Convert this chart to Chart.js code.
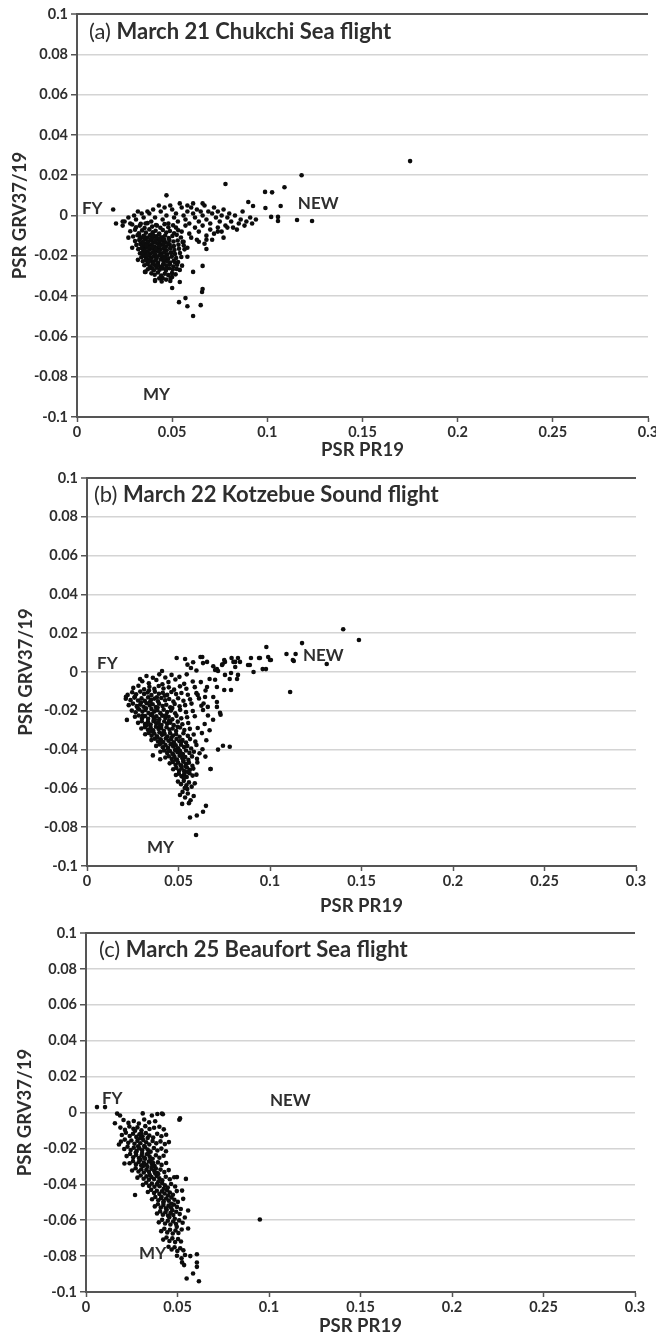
<!DOCTYPE html>
<html>
<head>
<meta charset="utf-8">
<script src="https://cdn.jsdelivr.net/npm/chart.js@4.4.1/dist/chart.umd.min.js"></script>
<style>
  html, body { margin: 0; padding: 0; background: #fff; }
  body { width: 656px; height: 1337px; position: relative; overflow: hidden; }
  .panel { position: absolute; left: 0; width: 656px; }
</style>
</head>
<body>
<div class="panel" style="top:0"><canvas id="chartA" width="656" height="462"></canvas></div>
<div class="panel" style="top:462px"><canvas id="chartB" width="656" height="460"></canvas></div>
<div class="panel" style="top:922px"><canvas id="chartC" width="656" height="415"></canvas></div>
<script>
/* ═══════════════════════════════════════════════
   PSR scatter — GRV37/19 vs PR19, three flights
═══════════════════════════════════════════════ */

// ── Axis ticks ──
const xTicks = [0, 0.05, 0.1, 0.15, 0.2, 0.25, 0.3];
const yTicks = [-0.1, -0.08, -0.06, -0.04, -0.02, 0, 0.02, 0.04, 0.06, 0.08, 0.1];

// ── Panel captions ──
const panelTags = ['(a)', '(b)', '(c)'];
const panelTitles = ['March 21 Chukchi Sea flight', 'March 22 Kotzebue Sound flight', 'March 25 Beaufort Sea flight'];
const iceLabels = ['FY', 'NEW', 'MY'];

// ── (a) March 21 points [PR19, GRV37/19] ──
const ptsA = [
  [0.019,0.003],[0.0205,-0.004],[0.047,0.010],[0.078,0.0156],[0.118,0.020],[0.175,0.027],
  [0.0988,0.0117],[0.1025,0.0115],[0.109,0.014],[0.107,0.0047],[0.099,0.0037],[0.102,-0.0007],
  [0.1056,-0.0007],[0.1056,-0.0027],[0.1156,-0.0022],[0.1235,-0.0027],[0.090,0.0067],[0.0925,0.0047],
  [0.050,-0.036],[0.0536,-0.043],[0.057,-0.041],[0.058,-0.045],[0.061,-0.0499],[0.065,-0.0445],
  [0.0657,-0.038],[0.066,-0.0365],[0.066,-0.025],[0.068,-0.0166],[0.061,-0.028],[0.0357,-0.028],
  [0.041,-0.0325],[0.049,-0.0325],[0.054,-0.033],
  [0.024,-0.003],[0.027,-0.011],[0.029,-0.016],[0.032,-0.022],[0.036,-0.028],[0.041,-0.032],
  [0.077,-0.011],[0.074,-0.008],[0.068,-0.012],[0.064,-0.013],[0.058,-0.016],[0.058,-0.0205],
  [0.054,-0.027],[0.050,-0.0305],[0.045,-0.031],
  [0.028,-0.004],[0.031,-0.002],[0.033,-0.005],[0.035,-0.001],[0.036,-0.004],[0.038,0.001],
  [0.039,-0.003],[0.041,-0.001],[0.042,-0.005],[0.044,0.002],[0.045,-0.002],[0.047,0.000],
  [0.048,-0.004],[0.050,0.003],[0.051,-0.001],[0.052,0.001],[0.053,-0.003],[0.055,0.004],
  [0.056,0.000],[0.057,-0.002],[0.058,0.002],[0.059,-0.004],[0.060,0.004],[0.061,0.001],
  [0.062,-0.001],[0.063,0.003],[0.064,-0.003],[0.065,0.002],[0.066,0.000],[0.067,0.005],
  [0.068,-0.002],[0.069,0.002],[0.070,-0.004],[0.071,0.001],[0.072,0.004],[0.073,-0.001],
  [0.074,0.002],[0.075,-0.003],[0.076,0.000],[0.077,0.003],[0.078,-0.005],[0.079,-0.001],
  [0.080,0.001],[0.081,-0.003],[0.082,-0.006],[0.083,0.000],[0.085,-0.004],[0.086,-0.002],
  [0.087,0.002],[0.088,-0.005],[0.089,-0.003],[0.091,-0.001],[0.092,-0.004],[0.094,-0.002],
  [0.054,0.006],[0.058,0.005],[0.061,0.006],[0.066,0.006],[0.046,0.004],[0.040,0.003],
  [0.037,0.002],[0.034,0.001],[0.030,0.000],[0.025,-0.003],[0.024,-0.005],[0.027,-0.001],
  [0.032,0.002],[0.043,0.005],[0.049,0.005],
  [0.052,-0.006],[0.055,-0.008],[0.057,-0.005],[0.059,-0.009],[0.062,-0.006],[0.064,-0.008],
  [0.066,-0.005],[0.068,-0.010],[0.070,-0.007],[0.072,-0.009],[0.074,-0.006],[0.076,-0.008],
  [0.079,-0.006],[0.084,-0.007],[0.063,-0.012],[0.067,-0.014],[0.071,-0.012],[0.060,-0.011],
  [0.056,-0.013],
  [0.029,-0.0045],[0.031,-0.0058],[0.0335,-0.0041],[0.0355,-0.0062],[0.037,-0.0038],[0.0395,-0.0055],
  [0.0415,-0.0047],[0.0438,-0.0061],[0.046,-0.0043],[0.048,-0.0058],[0.0505,-0.0049],
  [0.028,-0.0078],[0.0305,-0.0071],[0.0325,-0.0088],[0.0342,-0.0074],[0.0362,-0.0085],[0.038,-0.0069],
  [0.0398,-0.0083],[0.0413,-0.0076],[0.0432,-0.0089],[0.0451,-0.0072],[0.0469,-0.0084],[0.0488,-0.0077],
  [0.051,-0.0088],[0.0532,-0.0073],
  [0.0295,-0.0104],[0.0318,-0.0098],[0.0336,-0.0112],[0.0351,-0.0101],[0.0368,-0.0109],[0.0384,-0.0097],
  [0.0399,-0.0111],[0.0416,-0.0103],[0.0431,-0.0094],[0.0447,-0.0108],[0.0463,-0.0099],[0.0482,-0.0112],
  [0.0501,-0.0102],[0.0524,-0.0096],[0.0546,-0.0109],
  [0.0305,-0.0127],[0.0327,-0.0121],[0.0344,-0.0132],[0.0359,-0.0119],[0.0374,-0.0128],[0.0389,-0.0122],
  [0.0403,-0.0134],[0.0419,-0.0118],[0.0435,-0.0129],[0.0449,-0.0123],[0.0466,-0.0133],[0.0485,-0.0121],
  [0.0507,-0.0129],[0.0529,-0.0124],[0.0555,-0.0131],
  [0.0312,-0.0146],[0.0333,-0.0141],[0.0348,-0.0152],[0.0363,-0.0139],[0.0377,-0.0149],[0.0391,-0.0143],
  [0.0406,-0.0154],[0.0421,-0.0138],[0.0437,-0.0147],[0.0452,-0.0142],[0.0468,-0.0153],[0.0487,-0.0144],
  [0.0509,-0.0151],[0.0533,-0.0145],[0.0561,-0.0149],
  [0.0322,-0.0167],[0.0339,-0.0161],[0.0353,-0.0172],[0.0366,-0.0159],[0.0381,-0.0169],[0.0394,-0.0163],
  [0.0409,-0.0174],[0.0424,-0.0158],[0.0439,-0.0168],[0.0455,-0.0162],[0.0471,-0.0173],[0.049,-0.0164],
  [0.0512,-0.0171],[0.0536,-0.0165],[0.0565,-0.0168],
  [0.0331,-0.0187],[0.0345,-0.0181],[0.0358,-0.0192],[0.0371,-0.0179],[0.0385,-0.0189],[0.0398,-0.0183],
  [0.0412,-0.0194],[0.0427,-0.0178],[0.0442,-0.0188],[0.0458,-0.0182],[0.0474,-0.0193],[0.0493,-0.0184],
  [0.0515,-0.0191],[0.0541,-0.0186],
  [0.0338,-0.0207],[0.0352,-0.0201],[0.0364,-0.0212],[0.0377,-0.0199],[0.0391,-0.0209],[0.0404,-0.0203],
  [0.0418,-0.0214],[0.0433,-0.0198],[0.0448,-0.0208],[0.0463,-0.0202],[0.0479,-0.0213],[0.0498,-0.0204],
  [0.0521,-0.0211],[0.0548,-0.0206],
  [0.0346,-0.0227],[0.0361,-0.0221],[0.0373,-0.0232],[0.0386,-0.0219],[0.0399,-0.0229],[0.0412,-0.0223],
  [0.0426,-0.0234],[0.0441,-0.0218],[0.0456,-0.0228],[0.0472,-0.0222],[0.0489,-0.0233],[0.0508,-0.0224],
  [0.0531,-0.0231],
  [0.0354,-0.0247],[0.0369,-0.0241],[0.0383,-0.0252],[0.0397,-0.0239],[0.0411,-0.0249],[0.0425,-0.0243],
  [0.044,-0.0254],[0.0455,-0.0238],[0.0471,-0.0248],[0.0488,-0.0242],[0.0506,-0.0253],[0.0526,-0.0244],
  [0.0552,-0.0249],
  [0.0372,-0.0267],[0.0389,-0.0261],[0.0404,-0.0272],[0.0419,-0.0259],[0.0434,-0.0269],[0.045,-0.0263],
  [0.0467,-0.0274],[0.0485,-0.0262],[0.0503,-0.0268],[0.0524,-0.0265],
  [0.0391,-0.0287],[0.0408,-0.0294],[0.0425,-0.0283],[0.0442,-0.0298],[0.0461,-0.0289],[0.048,-0.0296],
  [0.0499,-0.0286],[0.0518,-0.0292],
  [0.0432,-0.0312],[0.0468,-0.0318],[0.0445,-0.0327],[0.0492,-0.0311],
  [0.0372,-0.0135],[0.0396,-0.0156],[0.0411,-0.0127],[0.0428,-0.0176],[0.0445,-0.0197],[0.0383,-0.0217],
  [0.0402,-0.0238],[0.0461,-0.0157],[0.0476,-0.0228],[0.0419,-0.0206],[0.0357,-0.0176],[0.0389,-0.0114],
  [0.0436,-0.0113],[0.0452,-0.0245],[0.0369,-0.0197],[0.0415,-0.0166],[0.0481,-0.0139],[0.0394,-0.0262],
  [0.0347,-0.0136],[0.0497,-0.0185],
  [0.0352,-0.0111],[0.0376,-0.0158],[0.0408,-0.0188],[0.0432,-0.0152],[0.0457,-0.0214],[0.0423,-0.0247],
  [0.0378,-0.0228],[0.0364,-0.0148],[0.0401,-0.0098],[0.0458,-0.0118],[0.0492,-0.0158],[0.0515,-0.0233],
  [0.0468,-0.0262],[0.0341,-0.0189],[0.0329,-0.0102]
];

// ── (b) March 22 points ──
const ptsB = [
  [0.140,0.022],[0.1486,0.0165],[0.1175,0.0149],[0.109,0.0093],[0.114,0.0093],[0.113,0.0057],
  [0.131,0.0041],[0.111,-0.0103],[0.098,0.0129],[0.099,0.0077],[0.1005,0.0062],[0.094,0.0072],
  [0.0896,0.0072],[0.089,0.0036],[0.091,0.000],[0.096,0.0015],[0.0978,0.0015],[0.0825,0.0072],
  [0.080,0.0052],[0.0787,-0.0005],[0.0825,-0.0015],[0.082,-0.0036],[0.0787,-0.0093],[0.075,-0.0093],
  [0.073,-0.022],[0.088,0.0036],[0.0754,0.0052],[0.074,0.004],
  [0.049,0.0072],[0.0536,0.0067],[0.058,0.005],[0.062,0.0077],[0.0634,0.0046],[0.071,0.0015],
  [0.075,0.0062],[0.079,0.0072],[0.081,0.0052],[0.069,0.003],[0.0945,0.0072],[0.100,0.0062],
  [0.1125,0.0062],[0.041,0.0005],[0.036,-0.003],[0.029,-0.0036],
  [0.063,0.0077],[0.0656,0.0052],[0.070,0.001],[0.0716,0.0005],[0.067,-0.0036],[0.070,-0.004],
  [0.0656,-0.0077],[0.071,-0.0077],[0.0645,-0.0129],[0.069,-0.0129],[0.071,-0.0155],[0.066,-0.018],
  [0.071,-0.018],[0.0634,-0.0196],[0.0754,-0.0015],[0.078,-0.0036],[0.081,0.0026],[0.0738,0.0036],
  [0.0836,0.0052],
  [0.0325,-0.0021],[0.0395,-0.0012],[0.0428,-0.0028],[0.0462,-0.0015],[0.0505,-0.0025],[0.0545,-0.0012],
  [0.0568,0.0021],[0.0598,0.0008],[0.0549,0.0038],
  [0.0302,-0.0048],[0.0338,-0.0058],[0.0379,-0.0041],[0.0412,-0.0063],[0.0445,-0.0052],[0.0483,-0.0039],
  [0.0531,-0.0061],[0.0578,-0.0049],
  [0.0253,-0.0082],[0.0281,-0.0071],[0.0312,-0.0089],[0.0341,-0.0076],[0.0368,-0.0087],[0.0392,-0.0072],
  [0.0418,-0.0085],[0.0447,-0.0079],[0.0476,-0.0091],[0.0508,-0.0074],[0.0543,-0.0086],[0.0589,-0.0078],
  [0.0222,-0.0118],[0.0247,-0.0104],[0.0268,-0.0115],[0.0291,-0.0101],[0.0312,-0.0113],[0.0331,-0.0106],
  [0.0352,-0.0119],[0.0371,-0.0102],[0.0393,-0.0112],[0.0414,-0.0107],[0.0438,-0.0118],[0.0461,-0.0103],
  [0.0487,-0.0114],[0.0516,-0.0108],[0.0551,-0.0117],[0.0598,-0.0109],
  [0.0212,-0.0138],[0.0238,-0.0145],[0.0259,-0.0132],[0.0279,-0.0147],[0.0298,-0.0136],[0.0316,-0.0149],
  [0.0334,-0.0131],[0.0351,-0.0143],[0.0369,-0.0137],[0.0388,-0.0151],[0.0406,-0.0134],[0.0427,-0.0146],
  [0.0449,-0.0139],[0.0472,-0.0152],[0.0498,-0.0135],[0.0527,-0.0148],[0.0563,-0.0141],[0.0612,-0.0136],
  [0.0228,-0.0171],[0.0251,-0.0163],[0.0272,-0.0176],[0.0291,-0.0168],[0.0309,-0.0179],[0.0326,-0.0161],
  [0.0343,-0.0173],[0.0359,-0.0166],[0.0376,-0.0181],[0.0394,-0.0164],[0.0413,-0.0175],[0.0433,-0.0169],
  [0.0455,-0.0182],[0.0479,-0.0165],[0.0506,-0.0177],[0.0536,-0.0171],[0.0571,-0.0163],[0.0625,-0.0174],
  [0.0245,-0.0199],[0.0266,-0.0208],[0.0285,-0.0193],[0.0303,-0.0204],[0.0319,-0.0196],[0.0336,-0.0211],
  [0.0352,-0.0191],[0.0368,-0.0203],[0.0384,-0.0197],[0.0401,-0.0212],[0.0419,-0.0194],[0.0438,-0.0206],
  [0.0459,-0.0199],[0.0482,-0.0213],[0.0509,-0.0195],[0.0541,-0.0207],[0.0578,-0.0201],
  [0.0262,-0.0231],[0.0283,-0.0224],[0.0301,-0.0238],[0.0318,-0.0227],[0.0334,-0.0241],[0.0349,-0.0222],
  [0.0364,-0.0234],[0.0379,-0.0228],[0.0395,-0.0243],[0.0411,-0.0225],[0.0428,-0.0237],[0.0446,-0.0231],
  [0.0466,-0.0244],[0.0489,-0.0226],[0.0515,-0.0239],[0.0547,-0.0233],[0.0589,-0.0228],
  [0.0279,-0.0262],[0.0299,-0.0254],[0.0317,-0.0268],[0.0333,-0.0257],[0.0348,-0.0271],[0.0363,-0.0252],
  [0.0378,-0.0264],[0.0392,-0.0258],[0.0407,-0.0273],[0.0422,-0.0255],[0.0438,-0.0267],[0.0455,-0.0261],
  [0.0474,-0.0274],[0.0496,-0.0256],[0.0521,-0.0269],[0.0553,-0.0263],
  [0.0297,-0.0291],[0.0316,-0.0284],[0.0333,-0.0298],[0.0348,-0.0287],[0.0362,-0.0301],[0.0377,-0.0282],
  [0.0391,-0.0294],[0.0405,-0.0288],[0.042,-0.0303],[0.0435,-0.0285],[0.0451,-0.0297],[0.0468,-0.0291],
  [0.0487,-0.0304],[0.0508,-0.0286],[0.0532,-0.0299],[0.0562,-0.0293],[0.0605,-0.0289],
  [0.0318,-0.0321],[0.0337,-0.0314],[0.0353,-0.0328],[0.0368,-0.0317],[0.0382,-0.0331],[0.0396,-0.0312],
  [0.041,-0.0324],[0.0424,-0.0318],[0.0439,-0.0333],[0.0454,-0.0315],[0.047,-0.0327],[0.0487,-0.0321],
  [0.0506,-0.0334],[0.0527,-0.0316],[0.0551,-0.0329],[0.0583,-0.0322],
  [0.0352,-0.0351],[0.0371,-0.0344],[0.0388,-0.0358],[0.0403,-0.0347],[0.0417,-0.0361],[0.0431,-0.0342],
  [0.0445,-0.0354],[0.0459,-0.0348],[0.0474,-0.0363],[0.0489,-0.0345],[0.0505,-0.0357],[0.0522,-0.0351],
  [0.0541,-0.0364],[0.0563,-0.0346],[0.0592,-0.0359],
  [0.0378,-0.0381],[0.0397,-0.0374],[0.0414,-0.0388],[0.0429,-0.0377],[0.0443,-0.0391],[0.0457,-0.0372],
  [0.0471,-0.0384],[0.0485,-0.0378],[0.0499,-0.0393],[0.0514,-0.0375],[0.053,-0.0387],[0.0548,-0.0381],
  [0.0569,-0.0394],[0.0598,-0.0376],
  [0.0401,-0.0411],[0.0421,-0.0404],[0.0438,-0.0418],[0.0453,-0.0407],[0.0467,-0.0421],[0.0481,-0.0402],
  [0.0495,-0.0414],[0.0509,-0.0408],[0.0524,-0.0423],[0.0541,-0.0405],[0.056,-0.0417],[0.0584,-0.0411],
  [0.0615,-0.0419],
  [0.0428,-0.0441],[0.0447,-0.0434],[0.0463,-0.0448],[0.0478,-0.0437],[0.0492,-0.0451],[0.0506,-0.0432],
  [0.0521,-0.0444],[0.0537,-0.0438],[0.0554,-0.0453],[0.0574,-0.0435],[0.0601,-0.0447],
  [0.0452,-0.0471],[0.0469,-0.0464],[0.0484,-0.0478],[0.0498,-0.0467],[0.0512,-0.0481],[0.0526,-0.0462],
  [0.0541,-0.0474],[0.0557,-0.0468],[0.0576,-0.0483],[0.0603,-0.0466],
  [0.0471,-0.0501],[0.0488,-0.0494],[0.0503,-0.0508],[0.0517,-0.0497],[0.0531,-0.0511],[0.0546,-0.0492],
  [0.0562,-0.0504],[0.0581,-0.0498],[0.0675,-0.050],
  [0.0486,-0.0531],[0.0502,-0.0524],[0.0517,-0.0538],[0.0531,-0.0527],[0.0545,-0.0541],[0.056,-0.0522],
  [0.0577,-0.0534],[0.0598,-0.0529],
  [0.0497,-0.0565],[0.0514,-0.0578],[0.0529,-0.0561],[0.0543,-0.0584],[0.0557,-0.0569],[0.0572,-0.0591],
  [0.0589,-0.0574],[0.0534,-0.0598],
  [0.0508,-0.0634],[0.0522,-0.0618],[0.052,-0.068],[0.0536,-0.0647],[0.0551,-0.0626],[0.0566,-0.0661],
  [0.0583,-0.0639],[0.0557,-0.0676],
  [0.065,-0.069],[0.0634,-0.072],[0.060,-0.074],[0.0563,-0.075],[0.0596,-0.084],
  [0.0213,-0.0128],[0.0218,-0.0247],[0.036,-0.043],[0.040,-0.045],[0.0716,-0.040],[0.0743,-0.038],
  [0.078,-0.0385],[0.0727,-0.021],[0.067,-0.030],[0.0675,-0.050],
  [0.0622,-0.0052],[0.0605,-0.0118],[0.0648,-0.0095],[0.0637,-0.0162],[0.0661,-0.0224],[0.0643,-0.0268],
  [0.0628,-0.0315],[0.0652,-0.0352],[0.0631,-0.0398],[0.0647,-0.0436],[0.0689,-0.0246],
  [0.0262,-0.0128],[0.0295,-0.0157],[0.0322,-0.0187],[0.0345,-0.0153],[0.0356,-0.0216],[0.0371,-0.0246],
  [0.0386,-0.0183],[0.0398,-0.0277],[0.0417,-0.0312],[0.0432,-0.0223],[0.0448,-0.0252],[0.0462,-0.0338],
  [0.0476,-0.0366],[0.0493,-0.0397],[0.0512,-0.0427],[0.0527,-0.0455],[0.0538,-0.0487],[0.0551,-0.0515],
  [0.0518,-0.0357],[0.0495,-0.0283],[0.0466,-0.0186],[0.0425,-0.0122],[0.0382,-0.0131],[0.0305,-0.0226],
  [0.0327,-0.0275],[0.0355,-0.0305],[0.0385,-0.0338],[0.0408,-0.0365],[0.0443,-0.0398],[0.0471,-0.0424],
  [0.0486,-0.0452],[0.0515,-0.0483],[0.0529,-0.0546],[0.0548,-0.0603],[0.0277,-0.0186],[0.0339,-0.0095]
];

// ── (c) March 25 points ──
const ptsC = [
  [0.006,0.003],[0.0104,0.003],
  [0.017,-0.0006],[0.031,-0.0005],[0.039,-0.0008],[0.042,-0.001],[0.051,-0.004],[0.0158,-0.006],
  [0.018,-0.0178],[0.021,-0.0284],[0.0268,-0.046],[0.095,-0.0596],[0.0546,-0.037],[0.0525,-0.0435],
  [0.0497,-0.036],[0.0558,-0.0546],[0.054,-0.0585],[0.0558,-0.0646],[0.0617,-0.094],[0.055,-0.0925],
  [0.0606,-0.079],[0.0606,-0.0836],[0.0606,-0.086],[0.0585,-0.0897],[0.057,-0.080],[0.0525,-0.0835],
  [0.0536,-0.085],
  [0.0186,-0.0017],[0.036,-0.0017],[0.0415,-0.0006],[0.0514,-0.0033],
  [0.0205,-0.0042],[0.0232,-0.0058],[0.0261,-0.0047],[0.0289,-0.0061],[0.0318,-0.0039],[0.0345,-0.0055],
  [0.0378,-0.0049],
  [0.0188,-0.0084],[0.0213,-0.0097],[0.0237,-0.0078],[0.0259,-0.0091],[0.0281,-0.0083],[0.0303,-0.0099],
  [0.0324,-0.0076],[0.0347,-0.0092],[0.0372,-0.0085],[0.0401,-0.0079],[0.0425,-0.0094],
  [0.0196,-0.0125],[0.0218,-0.0113],[0.0239,-0.0131],[0.0257,-0.0118],[0.0275,-0.0136],[0.0292,-0.0121],
  [0.0309,-0.0133],[0.0327,-0.0115],[0.0346,-0.0128],[0.0367,-0.0139],[0.0389,-0.0119],[0.0412,-0.0132],
  [0.0438,-0.0124],
  [0.0191,-0.0162],[0.0212,-0.0151],[0.0231,-0.0169],[0.0248,-0.0156],[0.0265,-0.0174],[0.0281,-0.0158],
  [0.0297,-0.0171],[0.0313,-0.0153],[0.0329,-0.0166],[0.0346,-0.0178],[0.0364,-0.0159],[0.0384,-0.0172],
  [0.0407,-0.0161],[0.0431,-0.0176],[0.0453,-0.0165],
  [0.0209,-0.0203],[0.0227,-0.0191],[0.0244,-0.0209],[0.0261,-0.0196],[0.0277,-0.0214],[0.0292,-0.0199],
  [0.0307,-0.0211],[0.0322,-0.0193],[0.0337,-0.0206],[0.0353,-0.0218],[0.0371,-0.0198],[0.039,-0.0212],
  [0.0412,-0.0201],[0.0437,-0.0216],
  [0.0222,-0.0243],[0.0241,-0.0231],[0.0258,-0.0249],[0.0274,-0.0236],[0.0289,-0.0254],[0.0304,-0.0239],
  [0.0318,-0.0251],[0.0333,-0.0233],[0.0348,-0.0246],[0.0364,-0.0258],[0.0382,-0.0238],[0.0401,-0.0252],
  [0.0424,-0.0241],
  [0.0238,-0.0283],[0.0257,-0.0271],[0.0273,-0.0289],[0.0288,-0.0276],[0.0302,-0.0294],[0.0316,-0.0279],
  [0.033,-0.0291],[0.0344,-0.0273],[0.0359,-0.0286],[0.0375,-0.0298],[0.0393,-0.0278],[0.0413,-0.0292],
  [0.0438,-0.0281],
  [0.0252,-0.0323],[0.0271,-0.0311],[0.0287,-0.0329],[0.0302,-0.0316],[0.0316,-0.0334],[0.033,-0.0319],
  [0.0344,-0.0331],[0.0358,-0.0313],[0.0373,-0.0326],[0.0389,-0.0338],[0.0407,-0.0318],[0.0428,-0.0332],
  [0.0452,-0.0321],
  [0.0281,-0.0363],[0.0299,-0.0351],[0.0315,-0.0369],[0.033,-0.0356],[0.0344,-0.0374],[0.0358,-0.0359],
  [0.0372,-0.0371],[0.0386,-0.0353],[0.0401,-0.0366],[0.0417,-0.0378],[0.0436,-0.0358],[0.0458,-0.0372],
  [0.0482,-0.0361],
  [0.0311,-0.0403],[0.0329,-0.0391],[0.0345,-0.0409],[0.036,-0.0396],[0.0374,-0.0414],[0.0388,-0.0399],
  [0.0402,-0.0411],[0.0416,-0.0393],[0.0431,-0.0406],[0.0447,-0.0418],[0.0465,-0.0398],[0.0487,-0.0412],
  [0.0338,-0.0443],[0.0356,-0.0431],[0.0372,-0.0449],[0.0387,-0.0436],[0.0401,-0.0454],[0.0415,-0.0439],
  [0.0429,-0.0451],[0.0443,-0.0433],[0.0458,-0.0446],[0.0475,-0.0458],[0.0496,-0.0438],
  [0.0361,-0.0483],[0.0379,-0.0471],[0.0395,-0.0489],[0.041,-0.0476],[0.0424,-0.0494],[0.0438,-0.0479],
  [0.0452,-0.0491],[0.0467,-0.0473],[0.0483,-0.0486],[0.0502,-0.0498],[0.0531,-0.0481],
  [0.0376,-0.0523],[0.0393,-0.0511],[0.0409,-0.0529],[0.0423,-0.0516],[0.0437,-0.0534],[0.0451,-0.0519],
  [0.0465,-0.0531],[0.048,-0.0513],[0.0497,-0.0526],[0.0518,-0.0538],
  [0.0388,-0.0563],[0.0405,-0.0551],[0.042,-0.0569],[0.0434,-0.0556],[0.0448,-0.0574],[0.0462,-0.0559],
  [0.0477,-0.0571],[0.0493,-0.0553],[0.0512,-0.0566],
  [0.0398,-0.0612],[0.0416,-0.0598],[0.0432,-0.0618],[0.0447,-0.0603],[0.0461,-0.0624],[0.0476,-0.0607],
  [0.0492,-0.0621],[0.0509,-0.0601],[0.0528,-0.0614],
  [0.0411,-0.0661],[0.0428,-0.0648],[0.0444,-0.0668],[0.0459,-0.0653],[0.0474,-0.0674],[0.0489,-0.0657],
  [0.0505,-0.0671],[0.0523,-0.0652],
  [0.0422,-0.0708],[0.044,-0.0696],[0.0456,-0.0716],[0.0472,-0.0701],[0.0487,-0.0722],[0.0503,-0.0705],
  [0.0519,-0.0719],
  [0.0451,-0.0748],[0.0468,-0.0763],[0.0484,-0.0751],[0.0499,-0.0772],[0.0515,-0.0756],[0.0532,-0.0768],
  [0.0497,-0.0798],[0.0522,-0.0812],[0.0541,-0.0794],
  [0.0296,-0.0143],[0.0318,-0.0187],[0.0341,-0.0226],[0.0352,-0.0264],[0.0336,-0.0302],[0.0307,-0.0226],
  [0.0285,-0.0188],[0.0323,-0.0258],[0.0362,-0.0301],[0.0378,-0.0338],[0.0349,-0.0348],[0.0395,-0.0343],
  [0.0423,-0.0503],[0.0441,-0.0542],[0.0455,-0.0583],[0.0413,-0.0471],
  [0.0268,-0.0102],[0.0302,-0.0116],[0.0337,-0.0142],[0.0272,-0.0223],[0.0298,-0.0263],[0.0312,-0.0298],
  [0.0367,-0.0281],[0.0382,-0.0312],[0.0395,-0.0386],[0.0425,-0.0425],[0.0448,-0.0462],[0.0466,-0.0508],
  [0.0472,-0.0545],[0.0485,-0.0592],[0.0496,-0.0637]
];

// ── Style ──
const TEXT = '#2e2e2e';
const AXIS = '#555555';
const GRID = '#d4d4d4';
const DOT = '#0c0c0c';
const FONT = 'Lato, "Open Sans", sans-serif';

Chart.defaults.font.family = FONT;
Chart.defaults.color = TEXT;

// ── Panel layout (canvas px) ──
const panels = [
  { id: 'chartA', pts: ptsA, padTop: 14, padRight: 8, yWidth: 77, xHeight: 45, xTitlePad: 1, yTitlePad: 9,
    tagAt: [0.0063, 0.091], notes: [[0.0026, 0.0037], [0.116, 0.006], [0.0347, -0.089]] },
  { id: 'chartB', pts: ptsB, padTop: 16, padRight: 20, yWidth: 87, xHeight: 56, xTitlePad: 5, yTitlePad: 15,
    tagAt: [0.0038, 0.0912], notes: [[0.0055, 0.0046], [0.118, 0.0085], [0.0328, -0.0907]] },
  { id: 'chartC', pts: ptsC, padTop: 11, padRight: 21, yWidth: 86, xHeight: 45, xTitlePad: 0, yTitlePad: 14,
    tagAt: [0.0071, 0.0908], notes: [[0.0087, 0.0078], [0.1005, 0.0067], [0.029, -0.0786]] }
];

// ── Panel title + FY / NEW / MY labels ──
const annotate = {
  id: 'annotate',
  afterDraw(chart, args, opts) {
    const { ctx, scales: { x, y } } = chart;
    ctx.save();
    ctx.fillStyle = TEXT;
    ctx.textBaseline = 'middle';
    ctx.textAlign = 'left';

    let px = x.getPixelForValue(opts.tagAt[0]);
    const py = y.getPixelForValue(opts.tagAt[1]);
    ctx.font = '22px ' + FONT;
    ctx.fillText(opts.tag, px, py);
    px += ctx.measureText(opts.tag + ' ').width;
    ctx.font = 'bold 22px ' + FONT;
    ctx.fillText(opts.title, px, py);

    ctx.font = 'bold 17px ' + FONT;
    opts.notes.forEach((n, i) => {
      ctx.fillText(iceLabels[i], x.getPixelForValue(n[0]), y.getPixelForValue(n[1]));
    });
    ctx.restore();
  }
};

const fmt = v => String(+Number(v).toFixed(2));

function makeChart(p, i) {
  const el = document.getElementById(p.id);
  new Chart(el, {
    type: 'scatter',
    data: {
      datasets: [{
        data: p.pts.map(d => ({ x: d[0], y: d[1] })),
        backgroundColor: DOT,
        borderWidth: 0,
        pointRadius: 2.3,
        pointHoverRadius: 2.3
      }]
    },
    options: {
      responsive: false,
      animation: false,
      events: [],
      layout: { padding: { top: p.padTop, right: p.padRight, left: 0, bottom: 0 } },
      plugins: {
        legend: { display: false },
        tooltip: { enabled: false },
        annotate: { tag: panelTags[i], title: panelTitles[i], tagAt: p.tagAt, notes: p.notes }
      },
      scales: {
        x: {
          type: 'linear',
          min: 0, max: 0.3,
          afterBuildTicks: s => { s.ticks = xTicks.map(v => ({ value: v })); },
          afterFit: s => { s.height = p.xHeight; s.paddingLeft = 0; s.paddingRight = 0; },
          grid: { drawOnChartArea: false, drawTicks: true, tickLength: 5, tickColor: AXIS, tickWidth: 1.5 },
          border: { display: true, color: AXIS, width: 2 },
          ticks: { color: TEXT, padding: 2, maxRotation: 0, autoSkip: false,
                   font: { size: 14.5, weight: 'bold' }, callback: fmt },
          title: { display: true, text: 'PSR PR19', color: TEXT,
                   font: { size: 18.5, weight: 'bold' }, padding: { top: 0, bottom: p.xTitlePad } }
        },
        y: {
          type: 'linear',
          min: -0.1, max: 0.1,
          afterBuildTicks: s => { s.ticks = yTicks.map(v => ({ value: v })); },
          afterFit: s => { s.width = p.yWidth; s.paddingTop = 0; s.paddingBottom = 0; },
          grid: {
            color: c => (c.tick && c.tick.value === 0.1 ? AXIS : GRID),
            lineWidth: c => (c.tick && c.tick.value === 0.1 ? 2 : 1.5),
            drawTicks: true, tickLength: 6, tickColor: AXIS, tickWidth: 1.5
          },
          border: { display: true, color: AXIS, width: 2 },
          ticks: { color: TEXT, padding: 3, autoSkip: false,
                   font: { size: 14.5, weight: 'bold' }, callback: fmt },
          title: { display: true, text: 'PSR GRV37/19', color: TEXT,
                   font: { size: 18.5, weight: 'bold' }, padding: { top: p.yTitlePad, bottom: 0 } }
        }
      }
    },
    plugins: [annotate]
  });
}

panels.forEach(makeChart);
</script>
</body>
</html>
